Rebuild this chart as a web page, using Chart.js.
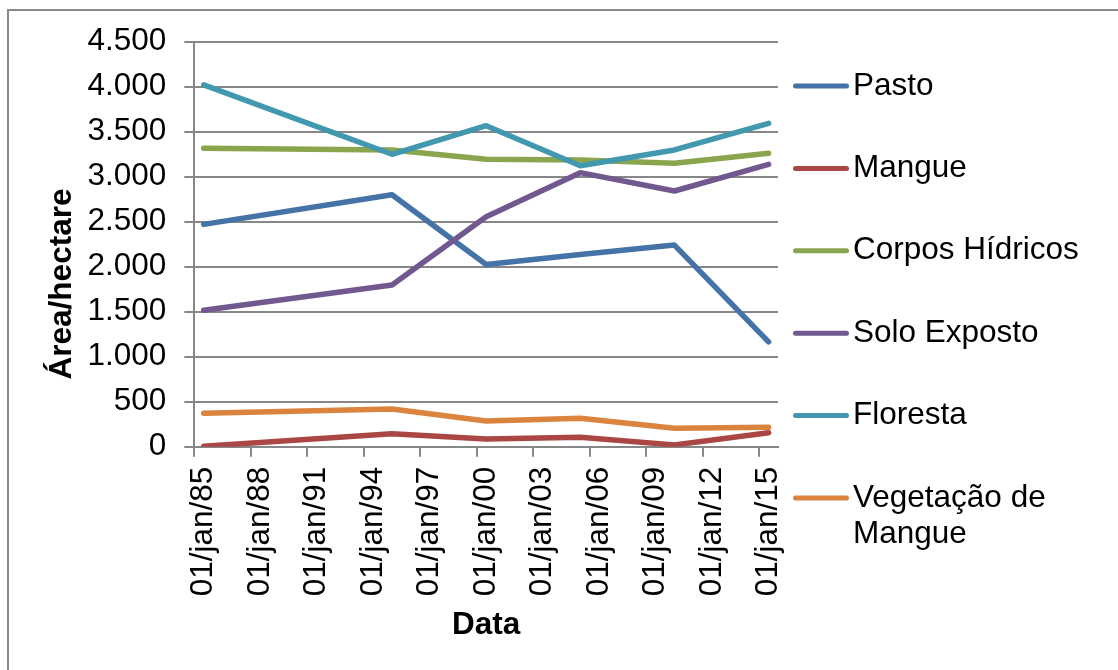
<!DOCTYPE html>
<html lang="pt-BR">
<head>
<meta charset="utf-8">
<title>Área por classe de uso do solo</title>
<script src="https://cdn.jsdelivr.net/npm/chart.js@4.4.1/dist/chart.umd.min.js"></script>
<style>
  html, body { margin: 0; padding: 0; background: #fff; overflow: hidden; width: 1118px; height: 670px; }
  #frame { position: absolute; left: 7px; top: 9px; width: 1160px; height: 720px; border: 2px solid #898989; box-sizing: border-box; }
  #chart { position: absolute; left: 0; top: 0; }
</style>
</head>
<body>
<div id="frame"></div>
<canvas id="chart" width="1118" height="670"></canvas>
<script>
// Anos das imagens classificadas (1º de janeiro de cada ano)
const years = [1985, 1995, 2000, 2005, 2010, 2015];

// Área (hectares) por classe
const pasto           = [2470, 2800, 2025, 2135, 2240, 1165];
const mangue          = [5, 145, 85, 105, 20, 155];
const corposHidricos  = [3315, 3297, 3193, 3186, 3150, 3260];
const soloExposto     = [1515, 1797, 2555, 3045, 2841, 3137];
const floresta        = [4020, 3249, 3567, 3122, 3297, 3593];
const vegetacaoMangue = [371, 419, 286, 315, 204, 215];

const seriesNames  = ['Pasto', 'Mangue', 'Corpos Hídricos', 'Solo Exposto', 'Floresta', 'Vegetação de Mangue'];
const seriesValues = [pasto, mangue, corposHidricos, soloExposto, floresta, vegetacaoMangue];
const seriesColors = ['#4572A7', '#AA4643', '#89A54E', '#71588F', '#4198AF', '#DB843D'];

// Eixo de datas: marcas a cada 3 anos
const tickYears  = [1985, 1988, 1991, 1994, 1997, 2000, 2003, 2006, 2009, 2012, 2015];
const tickLabels = ['01/jan/85', '01/jan/88', '01/jan/91', '01/jan/94', '01/jan/97', '01/jan/00',
                    '01/jan/03', '01/jan/06', '01/jan/09', '01/jan/12', '01/jan/15'];

// Eixo de valores
const yMin = 0, yMax = 4500, yStep = 500;
const yTitle = 'Área/hectare';
const xTitle = 'Data';

const FONT = 'Liberation Sans, Arial, Helvetica, sans-serif';
const FS = 31.5;
const GRID = '#878787';

function fmtThousands(v) {
  return String(Math.round(v)).replace(/\B(?=(\d{3})+(?!\d))/g, '.');
}

function wrapText(ctx, text, maxWidth) {
  const words = text.split(' ');
  const lines = [];
  let cur = '';
  words.forEach(w => {
    const t = cur ? cur + ' ' + w : w;
    if (cur && ctx.measureText(t).width > maxWidth) { lines.push(cur); cur = w; }
    else cur = t;
  });
  if (cur) lines.push(cur);
  return lines;
}

// Legenda lateral: traço colorido + nome da série, com quebra de linha
const sideLegend = {
  id: 'sideLegend',
  afterDraw(chart, args, o) {
    const ctx = chart.ctx;
    ctx.save();
    ctx.font = `${o.size}px ${o.family}`;
    ctx.textBaseline = 'middle';
    ctx.textAlign = 'left';
    chart.data.datasets.forEach((ds, i) => {
      const y = o.top + i * o.step;
      ctx.beginPath();
      ctx.strokeStyle = ds.borderColor;
      ctx.lineWidth = 5;
      ctx.lineCap = 'round';
      ctx.moveTo(o.lineStart, y);
      ctx.lineTo(o.lineEnd, y);
      ctx.stroke();
      ctx.fillStyle = '#000';
      wrapText(ctx, ds.label, o.maxWidth).forEach((ln, k) => {
        ctx.fillText(ln, o.textX, y + k * o.lineHeight);
      });
    });
    ctx.restore();
  }
};

// Título do eixo vertical, girado, posicionado ao lado dos rótulos
const valueAxisTitle = {
  id: 'valueAxisTitle',
  afterDraw(chart, args, o) {
    const ctx = chart.ctx;
    ctx.save();
    ctx.font = `bold ${o.size}px ${o.family}`;
    ctx.fillStyle = '#000';
    ctx.textAlign = 'center';
    ctx.textBaseline = 'middle';
    ctx.translate(o.x, o.y);
    ctx.rotate(-Math.PI / 2);
    ctx.fillText(o.text, 0, 0);
    ctx.restore();
  }
};

const datasets = seriesNames.map((name, i) => ({
  label: name,
  data: years.map((yr, j) => ({ x: yr, y: seriesValues[i][j] })),
  borderColor: seriesColors[i],
  backgroundColor: seriesColors[i],
  borderWidth: 5.5,
  borderCapStyle: 'round',
  borderJoinStyle: 'round',
  pointRadius: 0,
  pointHoverRadius: 0,
  tension: 0,
  fill: false,
  order: seriesNames.length - i
}));

new Chart(document.getElementById('chart'), {
  type: 'line',
  data: { datasets },
  plugins: [sideLegend, valueAxisTitle],
  options: {
    responsive: false,
    animation: false,
    devicePixelRatio: 1,
    layout: { padding: { left: 0, top: 41.7, right: 340, bottom: 0 } },
    plugins: {
      legend: { display: false },
      tooltip: { enabled: false },
      sideLegend: {
        family: FONT, size: FS, top: 86, step: 82.4,
        lineStart: 795.5, lineEnd: 846.5, textX: 853,
        maxWidth: 250, lineHeight: 36
      },
      valueAxisTitle: { text: yTitle, family: FONT, size: FS, x: 62.5, y: 284 }
    },
    scales: {
      x: {
        type: 'linear',
        min: tickYears[0] - 0.5,
        max: tickYears[tickYears.length - 1] + 0.5,
        afterBuildTicks: (axis) => { axis.ticks = tickYears.map(y => ({ value: y - 0.5 })); },
        afterFit: (scale) => { scale.height = 670 - 446.7; },
        grid: { drawOnChartArea: false, drawTicks: true, tickLength: 10, color: GRID, lineWidth: 2 },
        border: { display: true, color: GRID, width: 2 },
        ticks: {
          autoSkip: false, maxRotation: 90, minRotation: 90, padding: 10, labelOffset: 9.4,
          color: '#000', font: { family: FONT, size: FS },
          callback: (v, i) => tickLabels[i]
        },
        title: {
          display: true, text: xTitle, color: '#000',
          font: { family: FONT, size: FS, weight: 'bold' },
          padding: { top: 0, bottom: 26 }
        }
      },
      y: {
        min: yMin, max: yMax,
        afterFit: (scale) => { scale.width = 194.3; },
        grid: { color: GRID, lineWidth: 2, drawTicks: true, tickLength: 10 },
        border: { display: true, color: GRID, width: 2 },
        ticks: {
          stepSize: yStep, padding: 18, color: '#000',
          font: { family: FONT, size: FS },
          callback: (v) => fmtThousands(v)
        },
        title: { display: false }
      }
    }
  }
});
</script>
</body>
</html>
